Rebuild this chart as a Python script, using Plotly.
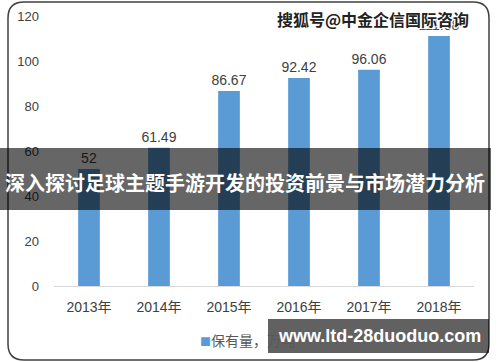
import plotly.graph_objects as go

years = ["2013年", "2014年", "2015年", "2016年", "2017年", "2018年"]
values = [52, 61.49, 86.67, 92.42, 96.06, 111.08]
value_labels = ["52", "61.49", "86.67", "92.42", "96.06", "111.08"]
series_name = "保有量，万吨"
banner_title = "深入探讨足球主题手游开发的投资前景与市场潜力分析"
watermark = "搜狐号@中金企信国际咨询"
site = "www.ltd-28duoduo.com"
bar_color = "#5b9bd5"

W, H = 500, 362
def px(x):
    return x / W
def py(y):
    return 1 - y / H

fig = go.Figure()
fig.add_trace(go.Bar(
    x=years, y=values, name=series_name,
    marker=dict(color=bar_color, line=dict(width=0)),
    text=value_labels, textposition="outside", constraintext="none",
    textfont=dict(family="Liberation Sans, Noto Sans CJK SC", size=14, color="#404040"),
    cliponaxis=False, showlegend=False,
))

# rounded border path
L, T, R, B, r = 8, 2, 489, 360, 16
def P(x, y):
    return f"{px(x):.5f},{py(y):.5f}"
border = (f"M{P(L+r,T)} L{P(R-r,T)} Q{P(R,T)} {P(R,T+r)} L{P(R,B-r)} Q{P(R,B)} {P(R-r,B)} "
          f"L{P(L+r,B)} Q{P(L,B)} {P(L,B-r)} L{P(L,T+r)} Q{P(L,T)} {P(L+r,T)} Z")

shapes = [
    dict(type="path", xref="paper", yref="paper", path=border,
         line=dict(color="#404040", width=1.5), fillcolor="rgba(0,0,0,0)", layer="above"),
    dict(type="rect", xref="paper", yref="paper", x0=px(0), x1=px(491), y0=py(210), y1=py(148),
         fillcolor="rgba(0,0,0,0.6)", line=dict(width=0), layer="above"),
    dict(type="rect", xref="paper", yref="paper", x0=px(268), x1=px(489), y0=py(353), y1=py(319),
         fillcolor="rgba(0,0,0,0.62)", line=dict(width=0), layer="above"),
]

annotations = [
    # legend entry
    dict(text=f'<span style="color:{bar_color};font-size:11px">■</span>{series_name}',
         xref="paper", yref="paper", x=px(198), y=py(340),
         xanchor="left", yanchor="middle", showarrow=False,
         font=dict(family="Noto Sans CJK SC, Liberation Sans", size=14, color="#595959")),
    dict(text=banner_title, xref="paper", yref="paper", x=px(245), y=py(182),
         xanchor="center", yanchor="middle", showarrow=False,
         font=dict(family="Noto Sans CJK SC", size=20, color="white", weight="bold")),
    dict(text=site, xref="paper", yref="paper", x=px(379), y=py(336),
         xanchor="center", yanchor="middle", showarrow=False,
         font=dict(family="Liberation Sans, DejaVu Sans", size=18, color="white", weight="bold")),
    dict(text=watermark, xref="paper", yref="paper", x=px(373), y=py(19),
         xanchor="center", yanchor="middle", showarrow=False,
         font=dict(family="Noto Sans CJK SC", size=16, color="#222222", weight="bold",
                   shadow="1px 1px 1px #ffffff, -1px -1px 1px #ffffff, 1px -1px 1px #ffffff, -1px 1px 1px #ffffff")),
]

fig.update_layout(
    width=W, height=H, autosize=False,
    margin=dict(l=0, r=0, t=0, b=0, autoexpand=False),
    paper_bgcolor="white", plot_bgcolor="white",
    bargap=0.69, showlegend=False,
    xaxis=dict(domain=[px(54), px(474)], type="category", showgrid=False, zeroline=False,
               showline=True, linecolor="#d9d9d9", linewidth=1, ticks="",
               tickfont=dict(family="Liberation Sans, Noto Sans CJK SC", size=14, color="#404040"),
               ticklabelstandoff=8),
    yaxis=dict(domain=[py(286), py(16)], range=[0, 120], dtick=20, showgrid=False,
               zeroline=False, showline=False, ticks="",
               tickfont=dict(family="Liberation Sans", size=13, color="#404040"),
               ticklabelstandoff=14),
    shapes=shapes, annotations=annotations,
)

fig.write_html("out.html", config={"displayModeBar": False},
               post_script="document.body.style.margin='0px';")
